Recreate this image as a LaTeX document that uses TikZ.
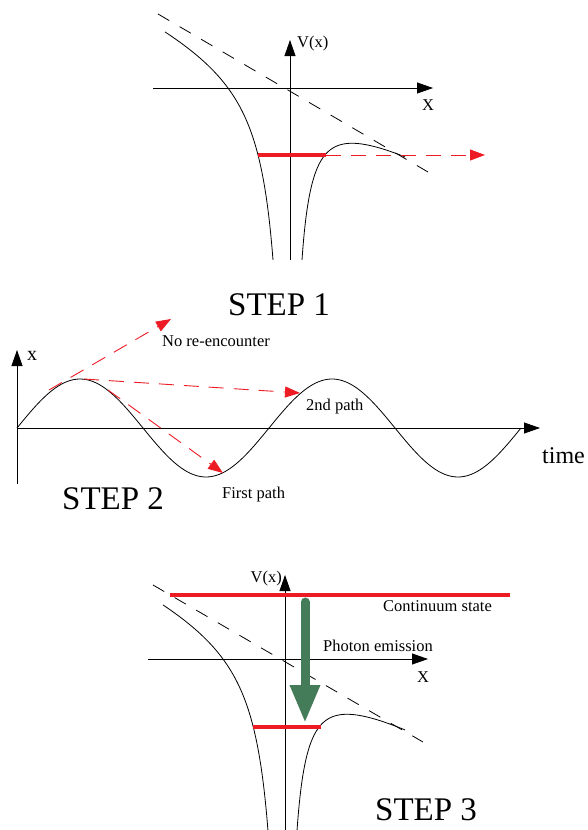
\documentclass[tikz,border=0pt]{standalone}
\usepackage{fontspec}
\setmainfont{Liberation Serif}
\definecolor{plred}{RGB}{237,28,36}
\definecolor{plgreen}{RGB}{68,124,90}
\usetikzlibrary{arrows.meta}

\begin{document}
\begin{tikzpicture}[x=1pt, y=-1pt,
  axisline/.style={line width=0.8pt, -{Triangle[length=16pt,width=11pt]}},
  wellcurve/.style={line width=0.8pt, smooth, samples=160},
  asym/.style={line width=0.8pt, dash pattern=on 13pt off 12pt},
  redlevel/.style={plred, line width=4pt},
  reddash/.style={plred, line width=0.9pt, dash pattern=on 15pt off 10pt,
    -{Triangle[length=15pt,width=11pt]}},
  lbl/.style={font=\fontsize{16.5}{18}\selectfont, inner sep=0pt},
  steplbl/.style={font=\fontsize{33}{36}\selectfont, inner sep=0pt}]

\useasboundingbox (0,0) rectangle (587,830);

% STEP 1: potential well, tunnelling out
\begin{scope}[shift={(290,88)}]
  \coordinate (h1a) at (-137,0);  \coordinate (h1b) at (143,0);
  \coordinate (v1a) at (0,172);   \coordinate (v1b) at (0,-48);
  \draw[axisline] (h1a) -- (h1b);
  \draw[axisline] (v1a) -- (v1b);
  \coordinate (d1a) at (-132,-74); \coordinate (d1b) at (138,84);
  \draw[asym] (d1a) -- (d1b);
  \draw[wellcurve] plot[domain=-125:-17] (\x, {0.43*\x+3572/abs(\x)-30.9});
  \draw[wellcurve] plot[domain=12:115] (\x, {0.559*\x+2152/\x-14.1});
  \coordinate (e1a) at (-32,67); \coordinate (e1b) at (36,67);
  \coordinate (e1c) at (195,67);
  \draw[redlevel] (e1a) -- (e1b);
  \draw[reddash] (e1b) -- (e1c);
\end{scope}
\node[lbl, anchor=base west] (vx1) at (297,47) {V(x)};
\node[lbl, anchor=base] (xx1) at (428,110) {X};
\node[steplbl, anchor=base west] (s1) at (228,315) {STEP 1};

% STEP 2: electron trajectories
\coordinate (h2a) at (17,428); \coordinate (h2b) at (540,428);
\coordinate (v2a) at (17,484); \coordinate (v2b) at (17,350);
\draw[axisline] (h2a) -- (h2b);
\draw[axisline] (v2a) -- (v2b);
\draw[wellcurve] plot[domain=0:504] ({17+\x}, {428-49*sin(\x*1.428571)});
\coordinate (p1) at (49,390);  \coordinate (q1) at (171,319);
\coordinate (p2) at (84,379);  \coordinate (q2) at (300,393);
\coordinate (p3) at (108,390); \coordinate (q3) at (223,473);
\draw[reddash] (p1) -- (q1);
\draw[reddash] (p2) -- (q2);
\draw[reddash] (p3) -- (q3);
\node[lbl, anchor=base west] (nore) at (162,346) {No re-encounter};
\node[lbl, anchor=base west] (path2) at (306,410) {2nd path};
\node[lbl, anchor=base west] (path1) at (222,498) {First path};
\node[font=\fontsize{20}{22}\selectfont, inner sep=0pt, anchor=base west] (xx2) at (27,360) {x};
\node[font=\fontsize{24}{26}\selectfont, inner sep=0pt, anchor=base west] (tm) at (542,463) {time};
\node[steplbl, anchor=base west] (s2) at (62,509) {STEP 2};

% STEP 3: recombination
\begin{scope}[shift={(285,659)}]
  \coordinate (h3a) at (-137,0);  \coordinate (h3b) at (143,0);
  \coordinate (v3a) at (0,172);   \coordinate (v3b) at (0,-84);
  \draw[axisline] (h3a) -- (h3b);
  \draw[axisline] (v3a) -- (v3b);
  \coordinate (d3a) at (-132,-74); \coordinate (d3b) at (138,83);
  \draw[asym] (d3a) -- (d3b);
  \draw[wellcurve] plot[domain=-122:-17] (\x, {0.43*\x+3572/abs(\x)-30.9});
  \draw[wellcurve] plot[domain=12:120] (\x, {0.559*\x+2152/\x-14.1});
  \coordinate (c3a) at (-115,-64); \coordinate (c3b) at (225,-64);
  \draw[plred, line width=3.5pt] (c3a) -- (c3b);
  \coordinate (e3a) at (-32,68); \coordinate (e3b) at (36,68);
  \draw[plred, line width=3.5pt] (e3a) -- (e3b);
  \coordinate (g1) at (20,-57); \coordinate (g2) at (20,64);
  \draw[plgreen, line width=9pt, line cap=round,
    -{Triangle[length=38pt,width=28pt]}] (g1) -- (g2);
\end{scope}
\node[lbl, anchor=base east] (vx3) at (282,582) {V(x)};
\node[lbl, anchor=base] (xx3) at (423,682) {X};
\node[lbl, anchor=base west] (cont) at (383,611) {Continuum state};
\node[lbl, anchor=base west] (phot) at (323,651) {Photon emission};
\node[steplbl, anchor=base west] (s3) at (375,820) {STEP 3};

\end{tikzpicture}
\end{document}
